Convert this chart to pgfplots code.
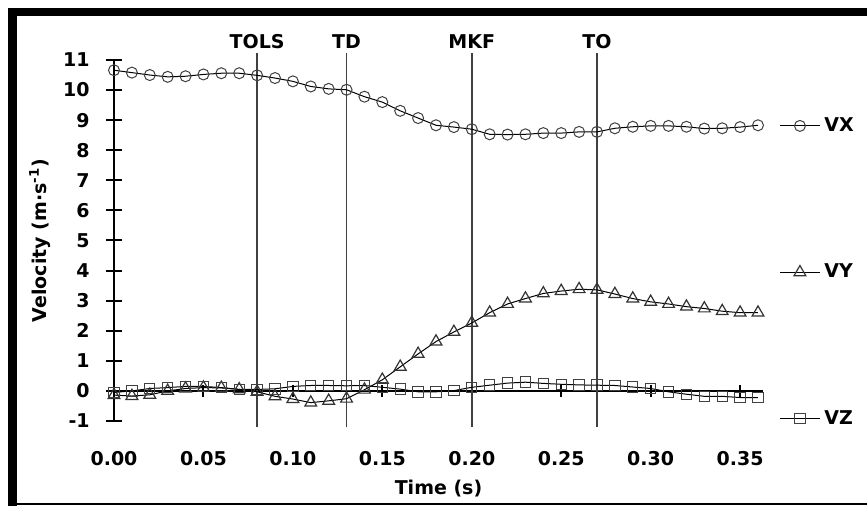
\documentclass[border=0pt]{standalone}
\usepackage{fontspec}
\setmainfont{DejaVu Sans}
\usepackage{pgfplots}
\pgfplotsset{compat=1.18}
\usepackage{pgfplotstable}

\pgfplotstableread{
t    vx     vy     vz
0.00 10.66 -0.14 -0.05
0.01 10.58 -0.17  0.00
0.02 10.50 -0.13  0.08
0.03 10.44  0.00  0.11
0.04 10.46  0.08  0.15
0.05 10.52  0.11  0.15
0.06 10.56  0.10  0.11
0.07 10.56  0.05  0.05
0.08 10.49 -0.03  0.05
0.09 10.40 -0.18  0.07
0.10 10.29 -0.27  0.15
0.11 10.12 -0.39  0.18
0.12 10.04 -0.33  0.18
0.13 10.01 -0.26  0.17
0.14  9.78  0.04  0.18
0.15  9.60  0.37  0.12
0.16  9.31  0.80  0.06
0.17  9.07  1.23 -0.03
0.18  8.83  1.64 -0.03
0.19  8.77  1.96  0.01
0.20  8.70  2.26  0.12
0.21  8.53  2.60  0.19
0.22  8.52  2.89  0.26
0.23  8.53  3.07  0.29
0.24  8.57  3.24  0.25
0.25  8.57  3.32  0.22
0.26  8.61  3.38  0.20
0.27  8.61  3.36  0.19
0.28  8.73  3.22  0.18
0.29  8.78  3.07  0.13
0.30  8.81  2.96  0.08
0.31  8.81  2.89 -0.03
0.32  8.78  2.80 -0.11
0.33  8.72  2.74 -0.18
0.34  8.73  2.65 -0.18
0.35  8.77  2.60 -0.22
0.36  8.83  2.60 -0.22
}\velo

\newcommand{\lblfont}{\fontsize{9.5}{11}\selectfont\bfseries}

\begin{document}
\begin{tikzpicture}
\useasboundingbox (0,0) rectangle (433.5pt,-253pt);
% frame
\fill[black] (4pt,-4pt) rectangle (433.5pt,-8pt);
\fill[black] (4pt,-4pt) rectangle (8.5pt,-253pt);
\fill[black] (4pt,-251.6pt) rectangle (433.5pt,-252.6pt);

\begin{axis}[
    at={(57pt,-210.5pt)}, anchor=south west,
    scale only axis, width=324.5pt, height=180.5pt,
    xmin=0, xmax=0.3628, ymin=-1, ymax=11,
    axis y line=left, axis x line=middle,
    axis line style={-, line width=1pt, black},
    hide obscured x ticks=false, hide obscured y ticks=false,
    xtick={0,0.05,0.1,0.15,0.2,0.25,0.3,0.35},
    ytick={-1,0,...,11},
    tick align=center,
    tick style={line width=1pt, black},
    xtick style={/pgfplots/major tick length=6pt},
    ytick style={/pgfplots/major tick length=8pt},
    /pgf/number format/assume math mode=true,
    tick label style={font=\lblfont},
    xticklabel style={/pgf/number format/.cd, fixed, fixed zerofill, precision=2, /tikz/.cd, yshift=-24.7pt},
    yticklabel style={xshift=-6.5pt},
    xlabel={Time (s)},
    ylabel={Velocity (m·s\textsuperscript{-1})},
    every axis x label/.style={at={(axis description cs:0.5,-0.186)}, anchor=center, font=\lblfont},
    every axis y label/.style={at={(axis description cs:-0.114,0.5)}, rotate=90, anchor=center, font=\lblfont},
    clip=false,
    legend style={at={(axis description cs:1.0247,0.853)}, anchor=north west,
        draw=none, fill=none, font=\lblfont, row sep=60.8pt, inner sep=0pt,
        nodes={inner sep=2pt}},
    legend cell align=left,
    legend image code/.code={\draw[#1, mark repeat=2, mark phase=2] plot coordinates {(0pt,0pt) (10pt,0pt) (20pt,0pt)};},
]
% event lines
\addplot[forget plot, gray!50!black, line width=0.9pt] coordinates {(0.08,-1.21) (0.08,11.23)};
\addplot[forget plot, gray!50!black, line width=0.9pt] coordinates {(0.13,-1.21) (0.13,11.23)};
\addplot[forget plot, gray!50!black, line width=0.9pt] coordinates {(0.20,-1.21) (0.20,11.23)};
\addplot[forget plot, gray!50!black, line width=0.9pt] coordinates {(0.27,-1.21) (0.27,11.23)};
\node[font=\lblfont] at (axis cs:0.08,11.62) {TOLS};
\node[font=\lblfont] at (axis cs:0.13,11.62) {TD};
\node[font=\lblfont] at (axis cs:0.20,11.62) {MKF};
\node[font=\lblfont] at (axis cs:0.27,11.62) {TO};

\addplot[black, line width=0.5pt, mark=o, mark size=2.75pt,
    mark options={draw=black!75, line width=0.5pt, fill=none}] table[x=t, y=vx] {\velo};
\addplot[black, line width=0.5pt, mark=triangle, mark size=3.4pt,
    mark options={draw=black!80, line width=0.6pt, fill=none}] table[x=t, y=vy] {\velo};
\addplot[black, line width=0.5pt, mark=square, mark size=2.6pt,
    mark options={draw=black!75, line width=0.5pt, fill=none}] table[x=t, y=vz] {\velo};
\legend{VX, VY, VZ}
\end{axis}
\end{tikzpicture}
\end{document}
